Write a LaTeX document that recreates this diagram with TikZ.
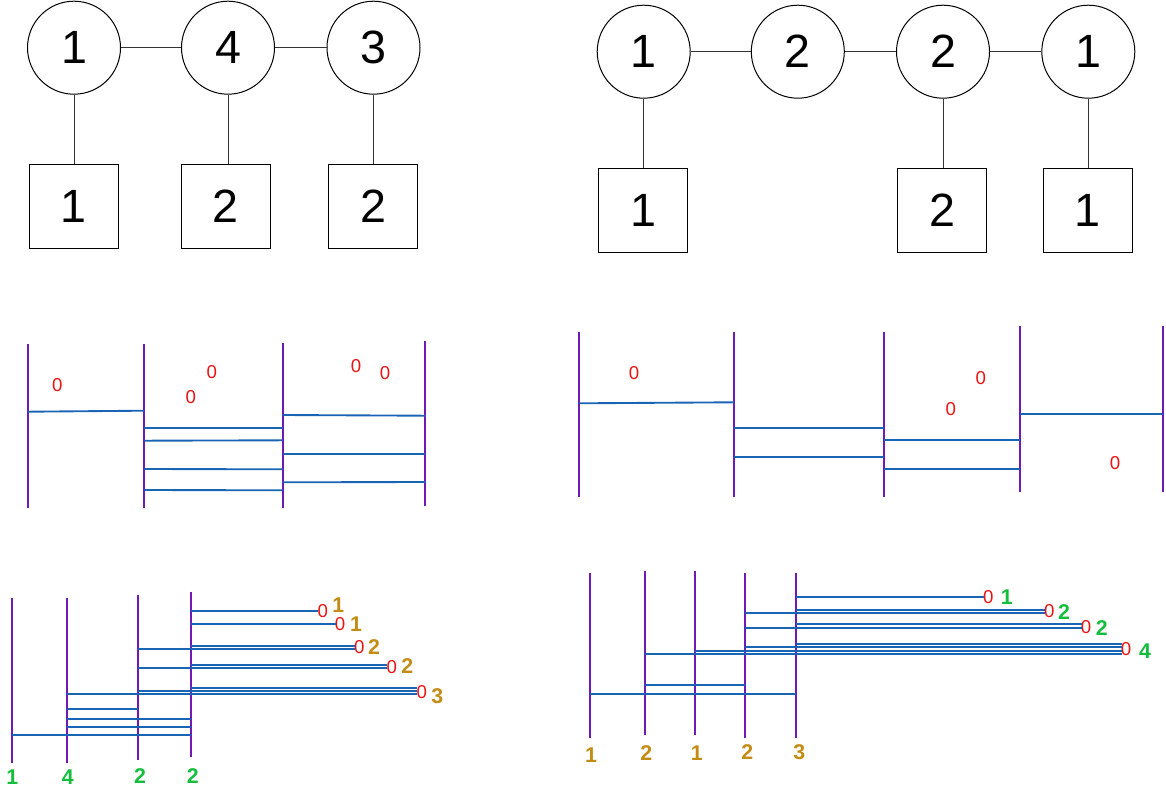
\documentclass[tikz,border=0pt]{standalone}
\usepackage{fontspec}
\setmainfont{Liberation Sans}
\definecolor{vpurple}{RGB}{112,25,180}
\definecolor{hblue}{RGB}{25,100,180}
\definecolor{zred}{RGB}{235,20,20}
\definecolor{lgreen}{RGB}{20,190,60}
\definecolor{lgold}{RGB}{195,140,20}
\tikzset{
  gcirc/.style={circle,draw=black,line width=0.75pt,minimum size=69.75pt,inner sep=0pt,font=\fontsize{35}{40}\selectfont},
  gsq/.style={rectangle,draw=black,line width=0.75pt,minimum width=66.75pt,minimum height=63pt,inner sep=0pt,font=\fontsize{35}{40}\selectfont},
  gedge/.style={draw=black!80,line width=0.75pt},
  vl/.style={draw=vpurple,line width=1.5pt},
  hl/.style={draw=hblue,line width=1.4pt},
  zero/.style={text=zred,inner sep=0pt,font=\fontsize{14}{16}\selectfont},
  lblgold/.style={text=lgold,inner sep=0pt,font=\fontsize{16}{19}\selectfont\bfseries},
  lblgreen/.style={text=lgreen,inner sep=0pt,font=\fontsize{16}{19}\selectfont\bfseries}
}
\begin{document}
\begin{tikzpicture}[x=0.75pt,y=-0.75pt]
\useasboundingbox (0,0) rectangle (1166,792);
% ---------- top left graph ----------
\node[gcirc] (a1) at (74,47.7) {1};
\node[gcirc] (a4) at (228,47.7) {4};
\node[gcirc] (a3) at (373.5,47.7) {3};
\node[gsq] (b1) at (73.7,206.3) {1};
\node[gsq] (b2) at (225.8,206.3) {2};
\node[gsq] (b3) at (373,206.3) {2};
\draw[gedge] (a1.east) -- (a4.west);
\draw[gedge] (a4.east) -- (a3.west);
\draw[gedge] (a1.south) -- (a1.south |- b1.north);
\draw[gedge] (a4.south) -- (a4.south |- b2.north);
\draw[gedge] (a3.south) -- (a3.south |- b3.north);
% ---------- top right graph ----------
\node[gcirc] (c1) at (643.7,51.7) {1};
\node[gcirc] (c2) at (797.8,51.7) {2};
\node[gcirc] (c3) at (943,51.7) {2};
\node[gcirc] (c4) at (1088.3,51.7) {1};
\node[gsq] (d1) at (643,210.3) {1};
\node[gsq] (d3) at (942.3,210.3) {2};
\node[gsq] (d4) at (1087.8,210.3) {1};
\draw[gedge] (c1.east) -- (c2.west);
\draw[gedge] (c2.east) -- (c3.west);
\draw[gedge] (c3.east) -- (c4.west);
\draw[gedge] (c1.south) -- (c1.south |- d1.north);
\draw[gedge] (c3.south) -- (c3.south |- d3.north);
\draw[gedge] (c4.south) -- (c4.south |- d4.north);
% ---------- middle left ----------
\draw[vl] (28,344) -- (28,508.3);
\draw[vl] (144.3,344) -- (144.3,508.3);
\draw[vl] (282.7,343.3) -- (282.7,508.3);
\draw[vl] (425.3,340.7) -- (425.3,505.7);
\draw[hl] (28,411.7) -- (144.3,410.7);
\draw[hl] (144.3,428.3) -- (282.7,428.3);
\draw[hl] (144.3,440.7) -- (282.7,440.3);
\draw[hl] (144.3,469) -- (282.7,469.3);
\draw[hl] (144.3,490) -- (282.7,490.3);
\draw[hl] (282.7,415) -- (425.3,415.7);
\draw[hl] (282.7,454) -- (425.3,454);
\draw[hl] (282.7,482.3) -- (425.3,482);
\node[zero] (m1) at (57.3,385) {0};
\node[zero] (m2) at (211.7,371.7) {0};
\node[zero] (m3) at (190.7,397.3) {0};
\node[zero] (m4) at (356,366) {0};
\node[zero] (m5) at (385,372.7) {0};
% ---------- middle right ----------
\draw[vl] (579,331.7) -- (579,496.7);
\draw[vl] (734,331.7) -- (734,496.7);
\draw[vl] (883.7,332.3) -- (883.7,496.7);
\draw[vl] (1020,326) -- (1020,491.7);
\draw[vl] (1162.7,326) -- (1162.7,491.7);
\draw[hl] (579,403.3) -- (734,402.3);
\draw[hl] (734,428.3) -- (883.7,428.3);
\draw[hl] (734,457) -- (883.7,457);
\draw[hl] (883.7,440) -- (1020,440);
\draw[hl] (883.7,469.3) -- (1020,469.3);
\draw[hl] (1020,414) -- (1162.7,414);
\node[zero] (n1) at (634,372.7) {0};
\node[zero] (n2) at (980.7,377.7) {0};
\node[zero] (n3) at (950.7,408.7) {0};
\node[zero] (n4) at (1115,463.3) {0};
% ---------- bottom left ----------
\draw[vl] (12,598.3) -- (12,762.7);
\draw[vl] (66.7,598.3) -- (66.7,762.7);
\draw[vl] (137.7,595) -- (137.7,760);
\draw[vl] (191,591.7) -- (191,756.7);
\node[lblgreen] (p1) at (12.3,776.7) {1};
\node[lblgreen] (p2) at (67.7,777.3) {4};
\node[lblgreen] (p3) at (140,776) {2};
\node[lblgreen] (p4) at (192.7,776) {2};
\node[zero] (e1) at (322.7,611) {0};
\node[zero] (e2) at (340,624) {0};
\node[zero] (e3) at (359.3,647) {0};
\node[zero] (e4) at (391.7,666.7) {0};
\node[zero] (e5) at (421.7,691.7) {0};
\node[lblgold] (q1) at (338.3,605) {1};
\node[lblgold] (q2) at (356,624.3) {1};
\node[lblgold] (q3) at (374,646.7) {2};
\node[lblgold] (q4) at (407.3,666) {2};
\node[lblgold] (q5) at (437.3,696) {3};
\draw[hl] (191,611) -- (318.2,611);
\draw[hl] (191,624) -- (335.5,624);
\draw[hl] (191,645.7) -- (354.8,645.7);
\draw[hl] (137.7,649) -- (354.8,649);
\draw[hl] (191,665) -- (387.2,665);
\draw[hl] (137.7,668.3) -- (387.2,668.3);
\draw[hl] (191,688.3) -- (417.2,688.3);
\draw[hl] (137.7,691) -- (417.2,691);
\draw[hl] (66.7,694.3) -- (417.2,694.3);
\draw[hl] (66.7,709.3) -- (137.7,709.3);
\draw[hl] (66.7,719.3) -- (191,719.3);
\draw[hl] (66.7,727) -- (191,727);
\draw[hl] (12,735) -- (191,735);
% ---------- bottom right ----------
\draw[vl] (589.5,573.3) -- (589.5,738.3);
\draw[vl] (645,570.7) -- (645,735);
\draw[vl] (695.3,570.7) -- (695.3,735);
\draw[vl] (745.3,573.3) -- (745.3,738.3);
\draw[vl] (796.3,573.3) -- (796.3,738.3);
\node[lblgold] (r1) at (591,755) {1};
\node[lblgold] (r2) at (646.3,752.7) {2};
\node[lblgold] (r3) at (696.7,752.7) {1};
\node[lblgold] (r4) at (747.3,751.7) {2};
\node[lblgold] (r5) at (799.3,751.7) {3};
\node[zero] (f1) at (988.3,597.3) {0};
\node[zero] (f2) at (1049.3,610.7) {0};
\node[zero] (f3) at (1086,626.7) {0};
\node[zero] (f4) at (1126,649.3) {0};
\node[lblgreen] (g1) at (1006.7,596.7) {1};
\node[lblgreen] (g2) at (1064,611.7) {2};
\node[lblgreen] (g3) at (1101.7,628.3) {2};
\node[lblgreen] (g4) at (1145,651) {4};
\draw[hl] (796.3,597.3) -- (983.8,597.3);
\draw[hl] (796.3,609.7) -- (1044.8,609.7);
\draw[hl] (745.3,612.7) -- (1044.8,612.7);
\draw[hl] (796.3,624.3) -- (1081.5,624.3);
\draw[hl] (745.3,628.3) -- (1081.5,628.3);
\draw[hl] (796.3,644) -- (1121.5,644);
\draw[hl] (745.3,647.3) -- (1121.5,647.3);
\draw[hl] (695.3,650.7) -- (1121.5,650.7);
\draw[hl] (645,654) -- (1121.5,654);
\draw[hl] (645,685.3) -- (745.3,685.3);
\draw[hl] (589.5,694.3) -- (796.3,694.3);
\end{tikzpicture}
\end{document}
